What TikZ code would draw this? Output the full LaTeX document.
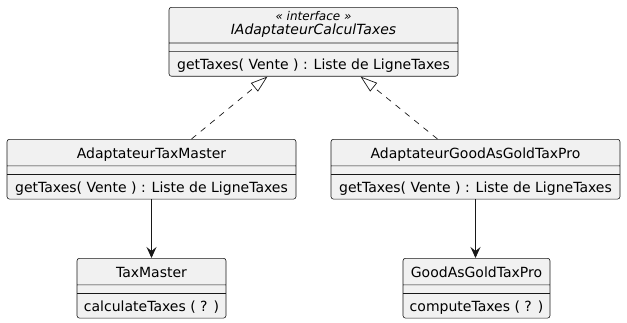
\documentclass[tikz,border=0pt]{standalone}
\usepackage{fontspec}
\setmainfont{DejaVu Sans}
\usetikzlibrary{arrows.meta,calc,shapes.multipart}
\definecolor{umlfill}{HTML}{F1F1F1}
\definecolor{umlline}{HTML}{181818}
\newcommand{\namestrut}{\rule[-7pt]{0pt}{26pt}}
\newcommand{\opstrut}{\rule[-6pt]{0pt}{24pt}}
\newcommand{\ifacename}[2]{\vbox{\offinterlineskip\halign{\hfil##\hfil\cr
  {\fontsize{12}{12}\selectfont\itshape #1}\rule[-3pt]{0pt}{16pt}\cr
  {\itshape #2}\rule[-8.5pt]{0pt}{12.5pt}\cr}}}

\begin{document}
\begin{tikzpicture}[
  x=1pt,y=-1pt,
  every node/.style={font=\fontsize{14}{16}\selectfont},
  classbox/.style={draw=umlline,fill=umlfill,line width=0.6pt,rounded corners=2.5pt,
    rectangle split,rectangle split parts=3,inner xsep=5pt,inner ysep=0pt,
    rectangle split empty part height=8pt,rectangle split empty part depth=0pt,
    anchor=north},
  realize/.style={draw=umlline,line width=0.7pt,dash pattern=on 6pt off 6pt,
    -{Triangle[open,length=17pt,width=11pt]}},
  assoc/.style={draw=umlline,line width=0.9pt,-{Stealth[length=11pt,width=10pt,inset=4pt]}},
]
  \useasboundingbox (0,0) rectangle (627,322);

  % Interface
  \node[classbox,minimum width=289pt] (iact) at (313.5,7)
    {\ifacename{« interface »}{IAdaptateurCalculTaxes}
     \nodepart{two}
     \nodepart{three}\opstrut getTaxes( Vente ) : Liste de LigneTaxes};

  % Adapters
  \node[classbox,minimum width=289pt] (atm) at (151.5,139)
    {\namestrut AdaptateurTaxMaster
     \nodepart{two}
     \nodepart{three}\opstrut getTaxes( Vente ) : Liste de LigneTaxes};
  \node[classbox,minimum width=289pt] (agg) at (475.5,139)
    {\namestrut AdaptateurGoodAsGoldTaxPro
     \nodepart{two}
     \nodepart{three}\opstrut getTaxes( Vente ) : Liste de LigneTaxes};

  % External services
  \node[classbox,minimum width=149pt] (tm) at (151.5,258)
    {\namestrut TaxMaster
     \nodepart{two}
     \nodepart{three}\opstrut calculateTaxes ( ? )};
  \node[classbox,minimum width=147pt] (gg) at (476.5,258)
    {\namestrut GoodAsGoldTaxPro
     \nodepart{two}
     \nodepart{three}\opstrut computeTaxes ( ? )};

  % Realizations
  \draw[realize] ($(atm.north)+(40,0)$) -- ($(iact.south)+(-46,0)$);
  \draw[realize] ($(agg.north)+(-38,0)$) -- ($(iact.south)+(47,0)$);

  % Associations
  \draw[assoc] (atm.south) -- (tm.north);
  \draw[assoc] (agg.south) -- (agg.south |- gg.north);
\end{tikzpicture}
\end{document}
